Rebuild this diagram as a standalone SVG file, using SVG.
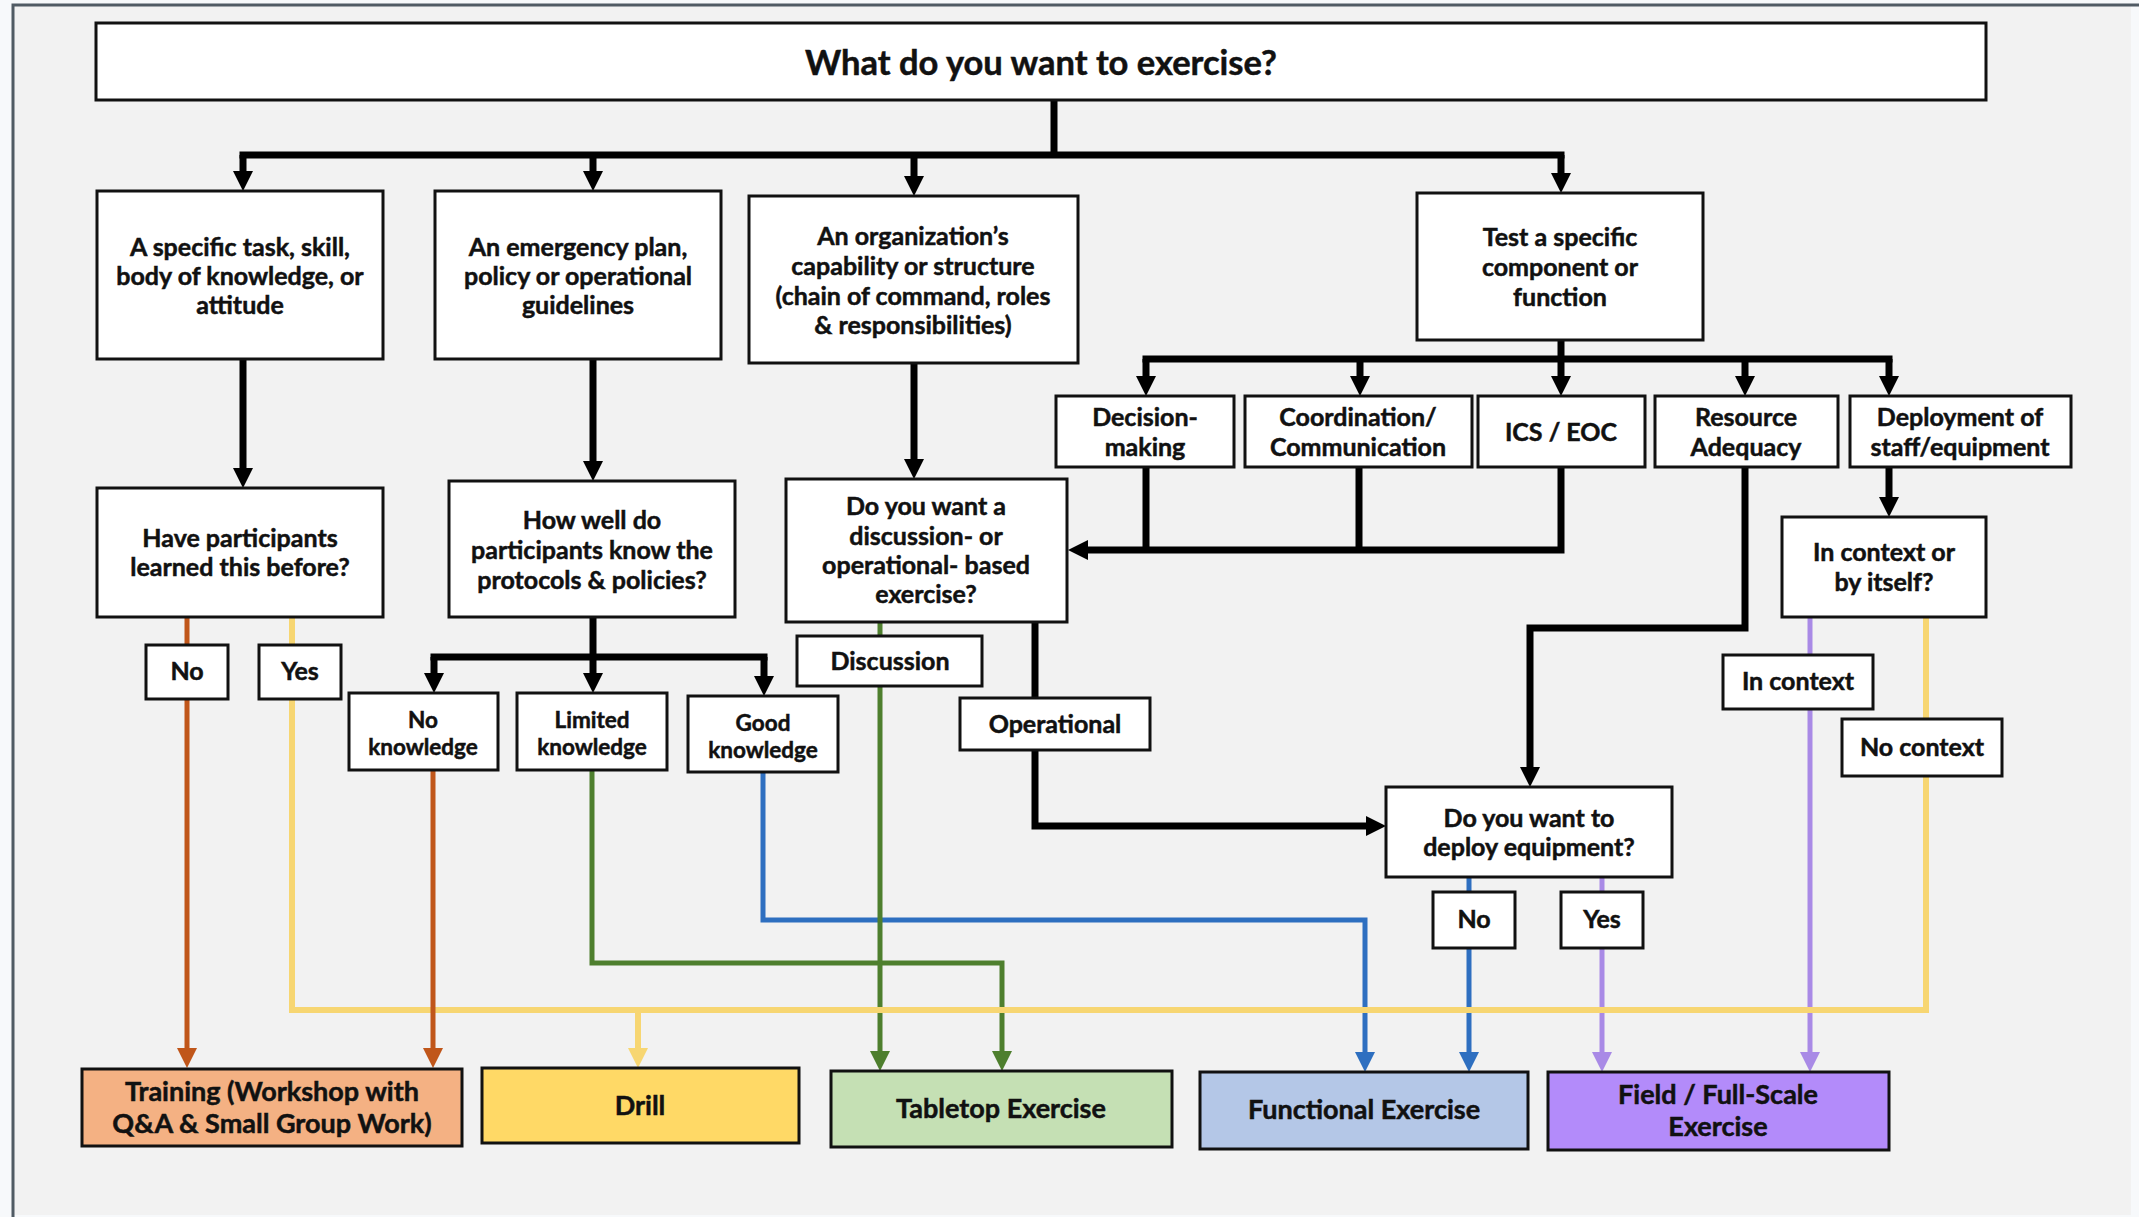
<svg xmlns="http://www.w3.org/2000/svg" width="2139" height="1217" viewBox="0 0 2139 1217">
<style>
.box{fill:#ffffff;stroke:#111;stroke-width:3}
.t{font-family:Lato,"Liberation Sans",sans-serif;font-weight:700;fill:#111;stroke:#111;stroke-width:0.5;text-anchor:middle}
.f22{font-size:25px}
.f20{font-size:22.5px}
.f23{font-size:27px}
.blk{fill:none;stroke:#000;stroke-width:7;stroke-linejoin:miter}
.brn{fill:none;stroke:#c0561a;stroke-width:5}
.yel{fill:none;stroke:#f7d672;stroke-width:6}
.grn{fill:none;stroke:#4e7f2e;stroke-width:5}
.blu{fill:none;stroke:#2e6fc0;stroke-width:5}
.pur{fill:none;stroke:#a98ae6;stroke-width:5}
</style>
<defs>
<marker id="ak" markerUnits="userSpaceOnUse" markerWidth="22" markerHeight="22" refX="0" refY="10" orient="auto" overflow="visible"><path d="M0,0 L20,10 L0,20 z" fill="#000"/></marker>
<marker id="abr" markerUnits="userSpaceOnUse" markerWidth="22" markerHeight="22" refX="0" refY="10" orient="auto" overflow="visible"><path d="M0,0 L20,10 L0,20 z" fill="#c0561a"/></marker>
<marker id="ay" markerUnits="userSpaceOnUse" markerWidth="22" markerHeight="22" refX="0" refY="10" orient="auto" overflow="visible"><path d="M0,0 L20,10 L0,20 z" fill="#f7d672"/></marker>
<marker id="ag" markerUnits="userSpaceOnUse" markerWidth="22" markerHeight="22" refX="0" refY="10" orient="auto" overflow="visible"><path d="M0,0 L20,10 L0,20 z" fill="#4e7f2e"/></marker>
<marker id="ab" markerUnits="userSpaceOnUse" markerWidth="22" markerHeight="22" refX="0" refY="10" orient="auto" overflow="visible"><path d="M0,0 L20,10 L0,20 z" fill="#2e6fc0"/></marker>
<marker id="ap" markerUnits="userSpaceOnUse" markerWidth="22" markerHeight="22" refX="0" refY="10" orient="auto" overflow="visible"><path d="M0,0 L20,10 L0,20 z" fill="#a98ae6"/></marker>
</defs>

<rect x="0" y="0" width="2139" height="1217" fill="#f7f9fb"/>
<rect x="13" y="5" width="2118" height="1210" fill="#f2f2f2"/>
<path d="M13,1217 V5 H2139" fill="none" stroke="#505b64" stroke-width="3"/>

<g id="connectors">
  <path class="blk" d="M1054,100 V155 M239.5,155 H1564.5"/>
  <path class="blk" d="M243,155 V171" marker-end="url(#ak)"/>
  <path class="blk" d="M593,155 V171" marker-end="url(#ak)"/>
  <path class="blk" d="M914,155 V176" marker-end="url(#ak)"/>
  <path class="blk" d="M1561,155 V173" marker-end="url(#ak)"/>

  <path class="blk" d="M1561,340 V359 M1142.5,359 H1892.5"/>
  <path class="blk" d="M1146,359 V376" marker-end="url(#ak)"/>
  <path class="blk" d="M1360,359 V376" marker-end="url(#ak)"/>
  <path class="blk" d="M1561,359 V376" marker-end="url(#ak)"/>
  <path class="blk" d="M1745,359 V376" marker-end="url(#ak)"/>
  <path class="blk" d="M1889,359 V376" marker-end="url(#ak)"/>

  <path class="blk" d="M1146,467 V550 M1359,467 V550"/>
  <path class="blk" d="M1561,467 V550 H1088" marker-end="url(#ak)"/>
  <path class="blk" d="M1745,467 V628 H1530 V767" marker-end="url(#ak)"/>
  <path class="blk" d="M1889,467 V497" marker-end="url(#ak)"/>

  <path class="blk" d="M243,359 V468" marker-end="url(#ak)"/>
  <path class="blk" d="M593,359 V461" marker-end="url(#ak)"/>
  <path class="blk" d="M914,363 V459" marker-end="url(#ak)"/>

  <path class="blk" d="M593,617 V657 M430.5,657 H767.5"/>
  <path class="blk" d="M434,657 V673" marker-end="url(#ak)"/>
  <path class="blk" d="M593,657 V673" marker-end="url(#ak)"/>
  <path class="blk" d="M764,657 V676" marker-end="url(#ak)"/>

  <path class="blk" d="M1035,622 V826 H1366" marker-end="url(#ak)"/>

  <path class="blu" d="M763,772 V920 H1365 V1052" marker-end="url(#ab)"/>
  <path class="grn" d="M592,770 V963 H1002 V1051" marker-end="url(#ag)"/>
  <path class="grn" d="M880,622 V1051" marker-end="url(#ag)"/>
  <path class="blu" d="M1469,876 V1052" marker-end="url(#ab)"/>
  <path class="pur" d="M1602,876 V1052" marker-end="url(#ap)"/>
  <path class="pur" d="M1810,617 V1052" marker-end="url(#ap)"/>
  <path class="yel" d="M292,617 V1010 H1926 V617"/>
  <path class="yel" d="M638,1010 V1048" marker-end="url(#ay)"/>
  <path class="brn" d="M187,617 V1048" marker-end="url(#abr)"/>
  <path class="brn" d="M433,770 V1048" marker-end="url(#abr)"/>
</g>

<g id="title">
  <rect class="box" x="96" y="23" width="1890" height="77"/>
  <text class="t" x="1041" y="75" font-size="34.5">What do you want to exercise?</text>
</g>

<g id="n-task">
  <rect class="box" x="97" y="191" width="286" height="168"/>
  <text class="t f22" x="240" y="256">A specific task, skill,</text>
  <text class="t f22" x="240" y="285">body of knowledge, or</text>
  <text class="t f22" x="240" y="314">attitude</text>
</g>
<g id="n-plan">
  <rect class="box" x="435" y="191" width="286" height="168"/>
  <text class="t f22" x="578" y="256">An emergency plan,</text>
  <text class="t f22" x="578" y="285">policy or operational</text>
  <text class="t f22" x="578" y="314">guidelines</text>
</g>
<g id="n-org">
  <rect class="box" x="749" y="196" width="329" height="167"/>
  <text class="t f22" x="913" y="245">An organization’s</text>
  <text class="t f22" x="913" y="275">capability or  structure</text>
  <text class="t f22" x="913" y="305">(chain of command, roles</text>
  <text class="t f22" x="913" y="334">&amp; responsibilities)</text>
</g>
<g id="n-test">
  <rect class="box" x="1417" y="193" width="286" height="147"/>
  <text class="t f22" x="1560" y="246">Test a specific</text>
  <text class="t f22" x="1560" y="276">component or</text>
  <text class="t f22" x="1560" y="306">function</text>
</g>

<g id="n-decision">
  <rect class="box" x="1056" y="396" width="178" height="71"/>
  <text class="t f22" x="1145" y="426">Decision-</text>
  <text class="t f22" x="1145" y="456">making</text>
</g>
<g id="n-coord">
  <rect class="box" x="1245" y="396" width="227" height="71"/>
  <text class="t f22" x="1358" y="426">Coordination/</text>
  <text class="t f22" x="1358" y="456">Communication</text>
</g>
<g id="n-ics">
  <rect class="box" x="1478" y="396" width="167" height="71"/>
  <text class="t f22" x="1561" y="441">ICS / EOC</text>
</g>
<g id="n-resource">
  <rect class="box" x="1655" y="396" width="183" height="71"/>
  <text class="t f22" x="1746" y="426">Resource</text>
  <text class="t f22" x="1746" y="456">Adequacy</text>
</g>
<g id="n-deploy">
  <rect class="box" x="1850" y="396" width="221" height="71"/>
  <text class="t f22" x="1960" y="426">Deployment of</text>
  <text class="t f22" x="1960" y="456">staff/equipment</text>
</g>

<g id="n-learned">
  <rect class="box" x="97" y="488" width="286" height="129"/>
  <text class="t f22" x="240" y="547">Have participants</text>
  <text class="t f22" x="240" y="576">learned this before?</text>
</g>
<g id="n-howwell">
  <rect class="box" x="449" y="481" width="286" height="136"/>
  <text class="t f22" x="592" y="529">How well do</text>
  <text class="t f22" x="592" y="559">participants know the</text>
  <text class="t f22" x="592" y="589">protocols &amp; policies?</text>
</g>
<g id="n-discop">
  <rect class="box" x="786" y="479" width="281" height="143"/>
  <text class="t f22" x="926" y="515">Do you want a</text>
  <text class="t f22" x="926" y="545">discussion- or</text>
  <text class="t f22" x="926" y="574">operational- based</text>
  <text class="t f22" x="926" y="603">exercise?</text>
</g>
<g id="n-context">
  <rect class="box" x="1782" y="517" width="204" height="100"/>
  <text class="t f22" x="1884" y="561">In context or</text>
  <text class="t f22" x="1884" y="591">by itself?</text>
</g>

<g id="l-no1">
  <rect class="box" x="146" y="645" width="82" height="54"/>
  <text class="t f22" x="187" y="680">No</text>
</g>
<g id="l-yes1">
  <rect class="box" x="259" y="645" width="82" height="54"/>
  <text class="t f22" x="300" y="680">Yes</text>
</g>
<g id="n-noknow">
  <rect class="box" x="349" y="693" width="149" height="77"/>
  <text class="t f20" x="423" y="728">No</text>
  <text class="t f20" x="423" y="755">knowledge</text>
</g>
<g id="n-limknow">
  <rect class="box" x="517" y="693" width="150" height="77"/>
  <text class="t f20" x="592" y="728">Limited</text>
  <text class="t f20" x="592" y="755">knowledge</text>
</g>
<g id="n-goodknow">
  <rect class="box" x="688" y="696" width="150" height="76"/>
  <text class="t f20" x="763" y="731">Good</text>
  <text class="t f20" x="763" y="758">knowledge</text>
</g>
<g id="l-discussion">
  <rect class="box" x="797" y="636" width="185" height="50"/>
  <text class="t f22" x="890" y="670">Discussion</text>
</g>
<g id="l-operational">
  <rect class="box" x="960" y="698" width="190" height="52"/>
  <text class="t f22" x="1055" y="733">Operational</text>
</g>
<g id="l-incontext">
  <rect class="box" x="1723" y="655" width="150" height="54"/>
  <text class="t f22" x="1798" y="690">In context</text>
</g>
<g id="l-nocontext">
  <rect class="box" x="1842" y="719" width="160" height="57"/>
  <text class="t f22" x="1922" y="756">No context</text>
</g>

<g id="n-deployq">
  <rect class="box" x="1386" y="787" width="286" height="90"/>
  <text class="t f22" x="1529" y="827">Do you want to</text>
  <text class="t f22" x="1529" y="856">deploy equipment?</text>
</g>
<g id="l-no2">
  <rect class="box" x="1433" y="892" width="82" height="56"/>
  <text class="t f22" x="1474" y="928">No</text>
</g>
<g id="l-yes2">
  <rect class="box" x="1561" y="892" width="82" height="56"/>
  <text class="t f22" x="1602" y="928">Yes</text>
</g>

<g id="r-training">
  <rect class="box" x="82" y="1069" width="380" height="77" style="fill:#f4b183"/>
  <text class="t f23" x="272" y="1101">Training (Workshop with</text>
  <text class="t f23" x="272" y="1133">Q&amp;A &amp; Small Group Work)</text>
</g>
<g id="r-drill">
  <rect class="box" x="482" y="1068" width="317" height="75" style="fill:#ffd966"/>
  <text class="t f23" x="640" y="1115">Drill</text>
</g>
<g id="r-tabletop">
  <rect class="box" x="831" y="1071" width="341" height="76" style="fill:#c5e0b4"/>
  <text class="t f23" x="1001" y="1118">Tabletop Exercise</text>
</g>
<g id="r-functional">
  <rect class="box" x="1200" y="1072" width="328" height="77" style="fill:#b4c7e7"/>
  <text class="t f23" x="1364" y="1119">Functional Exercise</text>
</g>
<g id="r-field">
  <rect class="box" x="1548" y="1072" width="341" height="78" style="fill:#b38bfa"/>
  <text class="t f23" x="1718" y="1104">Field / Full-Scale</text>
  <text class="t f23" x="1718" y="1136">Exercise</text>
</g>
</svg>
